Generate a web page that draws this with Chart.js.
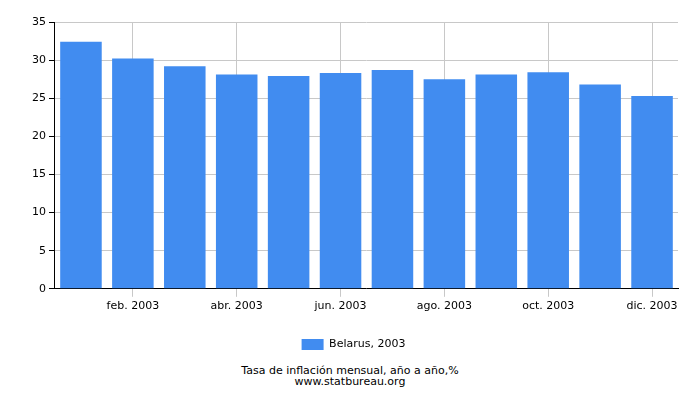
<!DOCTYPE html>
<html>
<head>
<meta charset="utf-8">
<script src="https://cdn.jsdelivr.net/npm/chart.js@4"></script>
<style>
  body { margin: 0; background: #fff; }
  #wrap { width: 700px; height: 400px; position: relative; }
  .foot { position: absolute; left: 0; width: 700px; text-align: center; font-family: "DejaVu Sans", sans-serif; font-size: 11px; color: #000; }
</style>
</head>
<body>
<div id="wrap">
  <canvas id="chart" width="700" height="360"></canvas>
  <div class="foot" style="top:364px">Tasa de inflación mensual, año a año,%</div>
  <div class="foot" style="top:375px">www.statbureau.org</div>
</div>
<script>
// monthly labels, only every other one is shown on the axis
const months = ["ene. 2003", "feb. 2003", "mar. 2003", "abr. 2003", "may. 2003", "jun. 2003",
                "jul. 2003", "ago. 2003", "sep. 2003", "oct. 2003", "nov. 2003", "dic. 2003"];
const belarus2003 = [32.4, 30.2, 29.2, 28.1, 27.9, 28.3, 28.7, 27.5, 28.1, 28.4, 26.8, 25.3];
const yTicks = [0, 5, 10, 15, 20, 25, 30, 35];

const ctx = document.getElementById('chart').getContext('2d');
new Chart(ctx, {
  type: 'bar',
  data: {
    labels: months,
    datasets: [{
      label: 'Belarus, 2003',
      data: belarus2003,
      backgroundColor: '#418cf0',
      barPercentage: 0.8,
      categoryPercentage: 1.0
    }]
  },
  options: {
    responsive: false,
    animation: false,
    layout: { padding: { top: 22, right: 22, left: 29, bottom: 0 } },
    plugins: {
      legend: {
        position: 'bottom',
        labels: { boxWidth: 22, boxHeight: 11, color: '#000', padding: 23,
                  font: { family: 'DejaVu Sans', size: 11 } }
      },
      tooltip: { enabled: false }
    },
    scales: {
      x: {
        grid: {
          offset: false,
          color: c => (c.index % 2 === 1 ? '#c8c8c8' : 'rgba(0,0,0,0)')
        },
        border: { color: '#000' },
        ticks: {
          autoSkip: false, maxRotation: 0, color: '#000',
          font: { family: 'DejaVu Sans', size: 11 },
          callback: (v, i) => (i % 2 === 1 ? months[i] : '')
        }
      },
      y: {
        min: 0, max: 35,
        afterBuildTicks: axis => { axis.ticks = yTicks.map(v => ({ value: v })); },
        grid: { color: '#c8c8c8', tickLength: 6, tickColor: '#000' },
        border: { color: '#000' },
        ticks: { color: '#000', font: { family: 'DejaVu Sans', size: 11 } }
      }
    }
  }
});
</script>
</body>
</html>
